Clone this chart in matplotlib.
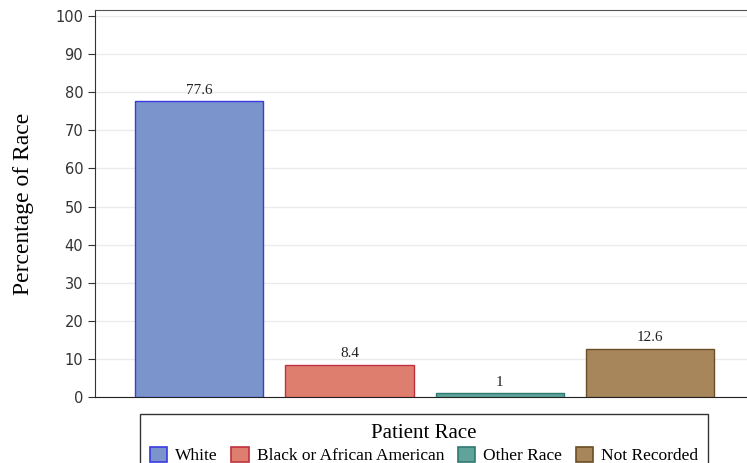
import matplotlib.pyplot as plt
import numpy as np

# data
races = ['White', 'Black or African American', 'Other Race', 'Not Recorded']
percent = [77.6, 8.4, 1, 12.6]
labels = ['77.6', '8.4', '1', '12.6']
fill_colors = ['#7B94CC', '#DE7E6F', '#5FA39A', '#A8865C']
edge_colors = ['#3A3AE0', '#C03040', '#2E7A70', '#6B4E25']


def main():
    fig = plt.figure(figsize=(7.47, 4.63), dpi=100)
    ax = fig.add_axes([95 / 747, 1 - 397 / 463, 1 - 95 / 747 + 0.002, (397 - 10) / 463])

    x = np.arange(len(races))
    ax.bar(x, percent, width=0.853, color=fill_colors, edgecolor=edge_colors,
           linewidth=1, zorder=3)
    for xi, val, lab in zip(x, percent, labels):
        ax.text(xi, val + 1.2, lab, ha='center', va='bottom', fontsize=11,
                family='Liberation Serif', color='#222222')

    ax.set_xlim(-0.693, 3.653)
    ax.set_ylim(0, 101.6)
    ax.set_yticks(range(0, 101, 10))
    ax.set_xticks([])
    ax.tick_params(axis='y', labelsize=10.5, labelcolor='#333333', length=5, color='#333333')
    ax.yaxis.grid(True, color='#EBEBEB', linewidth=1, zorder=0)
    ax.set_axisbelow(True)
    ax.spines['right'].set_visible(False)
    ax.spines['top'].set_color('#555555')
    ax.spines['left'].set_color('#333333')
    ax.spines['bottom'].set_color('#222222')

    ax.set_ylabel('Percentage of Race', family='Liberation Serif', fontsize=17, labelpad=15)

    handles = [plt.Rectangle((0, 0), 1, 1, facecolor=f, edgecolor=e, linewidth=1.2)
               for f, e in zip(fill_colors, edge_colors)]
    leg = fig.legend(handles, races, loc='upper center', bbox_to_anchor=(424 / 747, 1 - 414 / 463),
                     ncol=4, title='Patient Race', frameon=True, fancybox=False,
                     prop={'family': 'Liberation Serif', 'size': 12.5},
                     title_fontproperties={'family': 'Liberation Serif', 'size': 15},
                     handlelength=1.0, handleheight=1.0, handletextpad=0.45, columnspacing=0.8,
                     borderpad=0.55, labelspacing=0.2, borderaxespad=0)
    leg.get_frame().set_edgecolor('black')
    leg.get_frame().set_linewidth(1)
    leg._legend_box.sep = 3

    plt.savefig('out.png', dpi=100)
    plt.close()


if __name__ == '__main__':
    main()
